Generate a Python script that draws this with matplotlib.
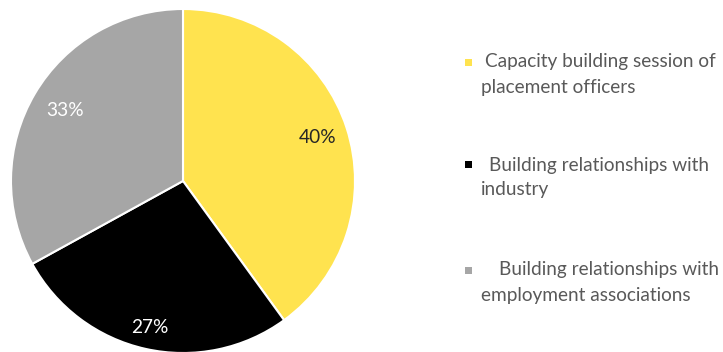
import numpy as np
import matplotlib.pyplot as plt
from matplotlib.patches import Rectangle

categories = [
    ["Capacity building session of", "placement officers"],
    ["Building relationships with", "industry"],
    ["Building relationships with", "employment associations"],
]
shares = [40, 27, 33]
colors = ["#FFE34F", "#000000", "#A6A6A6"]
label_colors = ["#262626", "#FFFFFF", "#FFFFFF"]
label_dist = [0.82, 0.875, 0.80]

W, H = 723, 352
fig = plt.figure(figsize=(W / 100, H / 100), dpi=100)
plt.rcParams["font.family"] = ["Lato", "DejaVu Sans"]

# pie axes: centre (183, 181), radius 172 px
cx, cy, r = 183, 181, 172
ax = fig.add_axes([(cx - r) / W, (H - cy - r) / H, 2 * r / W, 2 * r / H])
wedges, _ = ax.pie(shares, colors=colors, startangle=90, counterclock=False,
                   radius=1.0, wedgeprops=dict(edgecolor="white", linewidth=1.5))
ax.set_xlim(-1, 1)
ax.set_ylim(-1, 1)
ax.set_aspect("auto")
ax.axis("off")

for w, s, c, d in zip(wedges, shares, label_colors, label_dist):
    ang = np.deg2rad((w.theta1 + w.theta2) / 2)
    ax.text(d * np.cos(ang), d * np.sin(ang), f"{s}%", ha="center", va="center",
            color=c, fontsize=13.8)

# legend on the right
marker_y = [62, 165, 270]
text_x1 = [485, 489, 499]
for lines, col, y, x1 in zip(categories, colors, marker_y, text_x1):
    fig.patches.append(Rectangle((465 / W, (H - y - 3.5) / H), 7 / W, 7 / H,
                                 transform=fig.transFigure, facecolor=col,
                                 edgecolor="none"))
    fig.text(x1 / W, (H - y) / H, lines[0], ha="left", va="center",
             color="#595959", fontsize=13.7)
    fig.text(481 / W, (H - y - 25) / H, lines[1], ha="left", va="center",
             color="#595959", fontsize=13.7)

fig.savefig("out.png", dpi=100)
